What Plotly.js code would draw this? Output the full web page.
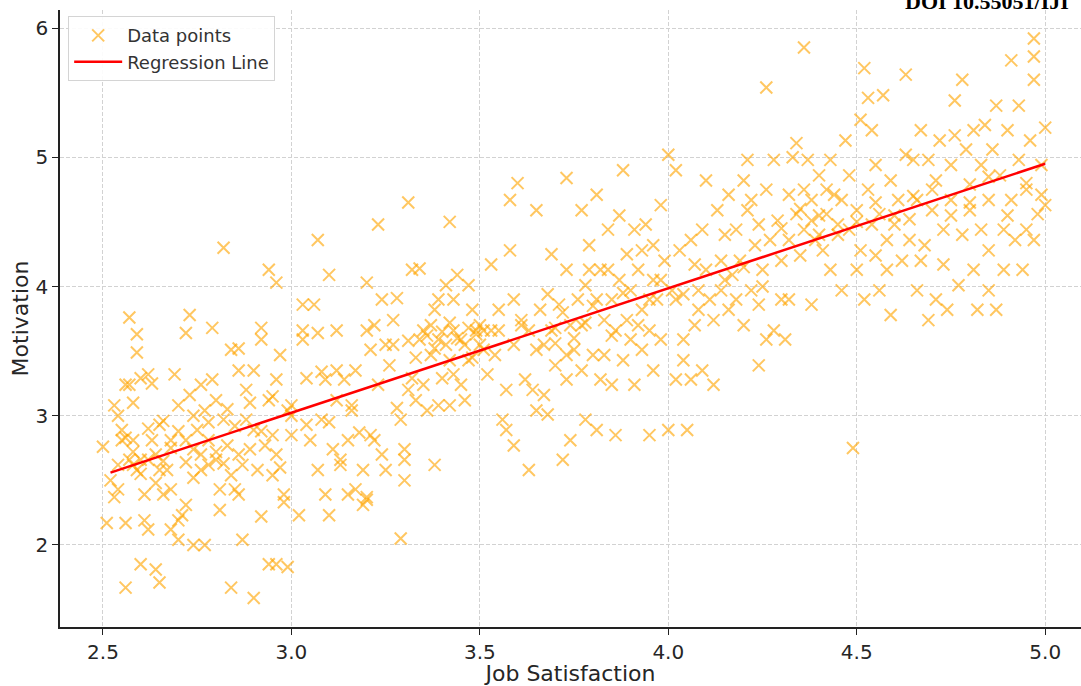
<!DOCTYPE html>
<html>
<head>
<meta charset="utf-8">
<script src="https://cdn.plot.ly/plotly-3.0.1.min.js"></script>
<style>html,body{margin:0;padding:0;background:#fff;}#chart{width:1081px;height:686px;}</style>
</head>
<body>
<div id="chart"></div>
<script>
// Job Satisfaction (x) values of the data points
const jobSatisfaction = [
2.51,2.50,2.52,2.53,2.54,2.53,2.54,2.55,2.56,2.56,2.57,2.56,2.56,2.57,2.59,2.59,2.58,2.57,2.58,2.60,2.55,2.54,2.58,2.60,2.60,2.59,
2.61,2.62,2.62,2.63,2.64,2.65,2.62,2.61,2.63,2.64,2.65,2.66,2.66,2.65,2.68,2.67,2.68,2.68,2.69,2.70,2.70,2.70,2.71,2.72,2.72,2.73,
2.72,2.73,2.74,2.74,2.74,2.75,2.76,2.76,2.77,2.77,2.78,2.78,2.79,2.79,2.80,2.80,2.81,2.81,2.82,2.82,2.82,2.83,2.84,2.84,2.84,2.85,
2.86,2.86,2.86,2.86,2.87,2.88,2.88,2.89,2.90,2.90,2.90,2.91,2.92,2.92,2.92,2.93,2.94,2.94,2.94,2.95,2.95,2.96,2.96,2.96,2.96,2.97,
2.98,2.98,2.99,2.99,3.00,3.00,
3.02,3.03,3.03,3.03,3.04,3.04,3.05,3.06,3.07,3.07,3.07,3.08,3.08,3.09,3.09,3.10,3.10,3.10,3.11,3.12,3.12,3.12,3.13,3.13,3.14,3.15,
3.15,3.16,3.16,3.17,3.17,3.18,3.19,3.19,3.20,3.20,3.20,3.20,3.21,3.21,3.22,3.22,3.23,3.23,3.24,3.24,3.25,3.25,3.26,3.27,3.27,3.28,
3.28,3.29,3.29,3.30,3.30,3.30,3.31,3.31,3.32,3.32,3.33,3.34,3.34,3.35,3.35,3.36,3.37,3.37,3.38,3.38,3.39,3.39,3.39,3.40,3.41,3.41,
3.42,3.42,3.42,3.43,3.43,3.43,3.44,3.45,3.45,3.46,3.47,3.47,3.47,3.48,3.49,3.49,
3.50,3.51,3.51,3.52,3.53,3.53,3.54,3.55,3.55,3.56,3.57,3.57,3.58,3.58,3.59,3.59,3.59,3.60,3.61,3.61,3.62,3.63,3.63,3.64,3.65,3.65,
3.65,3.66,3.67,3.67,3.68,3.68,3.69,3.69,3.70,3.70,3.71,3.72,3.73,3.73,3.73,3.73,3.74,3.74,3.75,3.76,3.77,3.77,3.77,3.78,3.78,3.79,
3.79,3.80,3.81,3.81,3.81,3.82,3.82,3.83,3.83,3.84,3.84,3.85,3.85,3.86,3.86,3.87,3.87,3.88,3.88,3.89,3.89,3.90,3.90,3.91,3.91,3.92,
3.93,3.93,3.93,3.94,3.95,3.95,3.96,3.96,3.96,3.97,3.98,3.98,3.99,
4.00,4.00,4.01,4.02,4.02,4.02,4.03,4.04,4.04,4.04,4.05,4.06,4.06,4.07,4.07,4.08,4.08,4.09,4.09,4.10,4.10,4.11,4.12,4.12,4.13,4.14,
4.14,4.15,4.16,4.16,4.17,4.18,4.18,4.19,4.20,4.20,4.21,4.21,4.22,4.22,4.23,4.24,4.24,4.24,4.25,4.26,4.26,4.26,4.27,4.28,4.28,4.29,
4.30,4.30,4.31,4.32,4.32,4.32,4.33,4.34,4.34,4.35,4.36,4.36,4.36,4.37,4.38,4.38,4.38,4.39,4.40,4.40,4.41,4.42,4.42,4.43,4.43,4.44,
4.45,4.46,4.46,4.47,4.48,4.48,4.49,
4.50,4.50,4.51,4.51,4.52,4.52,4.53,4.53,4.54,4.54,4.55,4.55,4.56,4.56,4.57,4.58,4.58,4.59,4.59,4.60,4.61,4.62,4.63,4.63,4.64,4.64,
4.65,4.66,4.66,4.67,4.67,4.68,4.69,4.69,4.70,4.71,4.71,4.72,4.73,4.73,4.74,4.75,4.75,4.76,4.76,4.77,4.78,4.78,4.79,4.80,4.80,4.81,
4.81,4.82,4.83,4.83,4.84,4.85,4.85,4.85,4.86,4.87,4.87,4.88,4.89,4.89,4.90,4.91,4.91,4.92,4.93,4.93,4.94,4.95,4.95,4.96,4.97,4.97,
4.97,4.97,4.98,4.99,4.99,5.00,5.00,
2.58,2.60,2.62,2.64,2.66,2.68,2.70,2.72,2.74,2.76,2.78,2.80,2.83,2.85,2.87,2.89,2.92,2.95,2.97,3.00,
3.38,3.40,3.42,3.44,3.46,3.36,3.48,3.50,3.33,3.31,
3.70,3.72,3.75,3.78,3.80,3.85,3.88,3.92,3.95,3.98,
4.15,4.20,4.25,4.30,4.35,4.40,4.45,4.50,4.55,4.60,4.65,4.70,4.75,4.80,4.85,4.90,4.95
];
// Motivation (y) values of the data points
const motivation = [
2.17,2.76,2.50,3.08,3.00,2.37,2.43,2.81,2.83,3.24,3.24,2.17,1.67,3.76,3.49,3.63,3.10,2.66,2.62,2.66,2.89,2.62,2.81,3.29,1.85,2.58,
2.19,2.66,3.32,3.25,1.81,1.71,2.12,2.39,2.81,2.70,2.58,2.39,2.96,2.93,2.81,2.58,2.43,2.12,3.32,3.08,2.04,2.19,2.23,2.31,3.64,3.78,
2.81,3.16,2.74,2.00,2.52,2.89,3.24,2.70,2.00,3.04,2.81,2.62,3.68,3.28,3.12,2.66,2.43,2.27,4.30,2.63,2.97,2.77,2.54,1.67,3.51,2.43,
3.35,2.39,3.52,2.70,2.04,3.20,2.97,2.74,3.35,1.59,2.89,2.58,3.68,3.59,2.22,2.77,4.13,3.12,1.85,2.54,2.85,3.28,1.85,4.03,2.70,3.47,
2.39,2.33,1.83,3.04,3.08,2.85,
2.23,3.66,3.86,3.59,2.93,3.29,2.81,3.86,3.64,4.36,2.58,3.34,2.97,3.28,2.39,2.23,4.09,2.95,2.74,3.66,3.12,3.35,2.66,2.62,3.28,2.81,
2.39,3.08,3.04,2.43,3.35,2.87,2.31,2.58,2.37,2.35,4.03,3.66,3.51,2.85,3.70,2.81,4.48,3.24,3.90,2.70,3.55,2.58,3.39,3.74,3.55,3.91,
3.06,2.05,2.97,2.66,2.50,2.74,4.65,3.20,4.13,3.29,3.12,4.14,3.59,3.66,3.24,3.04,3.47,3.70,2.62,3.82,3.59,3.08,3.90,3.29,3.55,4.01,
3.08,4.50,3.43,3.66,3.90,3.32,4.09,3.59,3.24,3.12,3.68,3.43,4.01,3.82,3.63,3.66,
3.55,3.66,3.51,3.32,4.17,3.66,3.47,3.66,3.82,2.97,2.89,3.20,4.67,4.28,3.55,3.90,2.77,4.80,3.74,3.70,3.28,2.58,3.66,3.20,3.51,3.04,
4.59,3.82,3.16,3.55,3.01,3.94,4.25,3.66,3.39,3.56,3.86,2.66,4.84,3.28,4.13,3.47,2.81,3.70,3.51,3.90,4.59,3.70,3.35,4.01,2.97,4.32,
4.13,3.47,4.71,3.90,2.89,4.13,3.28,3.74,3.47,4.44,4.13,3.90,3.24,3.66,2.85,4.55,4.05,4.90,3.43,4.25,3.74,3.59,3.97,4.44,3.24,4.13,
4.28,3.82,3.51,4.48,3.66,2.85,4.05,4.32,3.35,3.90,4.63,3.59,4.20,
2.89,5.02,3.97,3.28,4.90,3.90,4.28,3.43,3.94,3.59,2.89,4.36,3.28,3.70,4.17,3.82,3.97,4.44,3.35,4.82,4.13,3.90,3.74,3.24,4.59,4.20,
3.97,4.40,3.82,4.71,4.09,3.90,4.44,4.20,4.82,3.70,4.59,4.98,3.97,4.67,4.32,3.86,4.48,3.39,4.13,4.75,3.59,5.54,4.36,3.66,4.98,4.51,
3.90,4.20,3.59,4.71,4.36,3.90,5.00,4.56,5.11,4.24,4.44,5.85,4.75,4.98,4.51,3.86,4.67,4.36,4.86,4.40,4.28,4.75,4.56,4.13,4.98,4.71,
4.48,3.97,4.67,5.13,4.86,4.44,2.75,
4.13,4.59,5.29,4.28,3.90,5.69,4.75,5.46,4.48,5.21,4.94,4.24,3.97,4.56,5.48,4.13,4.36,3.78,4.82,4.48,4.67,4.20,5.64,5.02,4.36,4.52,
4.98,3.97,4.67,5.21,4.20,4.32,4.98,3.74,4.59,4.82,3.90,5.13,4.44,4.17,3.82,4.94,4.67,5.17,5.44,4.01,5.60,4.40,5.06,4.59,4.79,4.13,
5.21,3.82,4.44,4.94,5.25,4.28,3.97,4.67,5.06,5.40,3.82,4.86,4.44,4.13,5.21,5.75,4.67,4.36,5.40,4.98,4.13,4.75,4.44,5.13,5.92,5.78,
5.60,4.36,4.56,4.71,4.94,5.23,4.63,
2.72,2.55,2.90,2.48,2.65,2.75,2.88,2.64,3.00,2.58,2.95,2.72,3.05,2.92,2.62,3.10,2.88,3.15,2.60,3.00,
3.52,3.65,3.72,3.60,3.55,3.62,3.45,3.70,3.45,3.58,
3.68,3.80,3.60,3.72,3.85,3.62,3.95,3.70,3.90,4.05,
4.05,4.15,4.00,4.45,4.60,4.55,4.40,4.50,4.65,4.55,4.70,4.75,4.55,4.65,4.85,4.55,4.80
];
// Regression line end points
const lineX = [2.52, 5.00];
const lineY = [2.56, 4.95];

const xTickVals = [2.5, 3.0, 3.5, 4.0, 4.5, 5.0];
const xTickText = ["2.5", "3.0", "3.5", "4.0", "4.5", "5.0"];
const yTickVals = [2, 3, 4, 5, 6];
const yTickText = ["2", "3", "4", "5", "6"];

const traces = [
  {
    type: 'scatter', mode: 'markers', name: 'Data points',
    x: jobSatisfaction, y: motivation,
    marker: {symbol: 'x-thin', size: 12, color: 'rgba(255,165,0,0.62)',
             line: {width: 2, color: 'rgba(255,165,0,0.62)'}},
    cliponaxis: false
  },
  {
    type: 'scatter', mode: 'lines', name: 'Regression Line',
    x: lineX, y: lineY,
    line: {color: '#ff0000', width: 2.5}
  }
];

const axisFont = {family: 'DejaVu Sans, sans-serif', size: 20, color: '#262626'};
const titleFont = {family: 'DejaVu Sans, sans-serif', size: 22, color: '#262626'};
const layout = {
  width: 1081, height: 686,
  margin: {l: 60, r: 0, t: 10, b: 59},
  paper_bgcolor: '#fff', plot_bgcolor: '#fff',
  showlegend: true,
  legend: {x: 0.008, y: 0.99, xanchor: 'left', yanchor: 'top',
           bgcolor: 'rgba(255,255,255,0.9)', bordercolor: '#d4d4d4', borderwidth: 1,
           font: {family: 'DejaVu Sans, sans-serif', size: 18, color: '#333'},
           itemwidth: 48, tracegroupgap: 0},
  xaxis: {
    range: [2.386, 5.095],
    tickmode: 'array', tickvals: xTickVals, ticktext: xTickText,
    showgrid: true, gridcolor: '#d2d2d2', griddash: '4px,2px', gridwidth: 1,
    showline: true, linecolor: '#222', linewidth: 1.5,
    ticks: 'outside', ticklen: 6, tickcolor: '#222', tickwidth: 1.3,
    tickfont: axisFont, zeroline: false,
    title: {text: 'Job Satisfaction', font: titleFont, standoff: 3}
  },
  yaxis: {
    range: [1.365, 6.14],
    tickmode: 'array', tickvals: yTickVals, ticktext: yTickText,
    showgrid: true, gridcolor: '#d2d2d2', griddash: '4px,2px', gridwidth: 1,
    showline: true, linecolor: '#222', linewidth: 1.5,
    ticks: 'outside', ticklen: 6, tickcolor: '#222', tickwidth: 1.3,
    tickfont: axisFont, zeroline: false,
    title: {text: 'Motivation', font: titleFont, standoff: 1}
  },
  annotations: [{
    xref: 'paper', yref: 'paper', x: 0.826, y: 1.014, xanchor: 'left', yanchor: 'middle',
    text: '<b>DOI 10.55051/IJI</b>', showarrow: false,
    font: {family: 'Liberation Serif, serif', size: 22, color: '#000'}
  }]
};

Plotly.newPlot('chart', traces, layout, {displayModeBar: false, responsive: false});
</script>
</body>
</html>
